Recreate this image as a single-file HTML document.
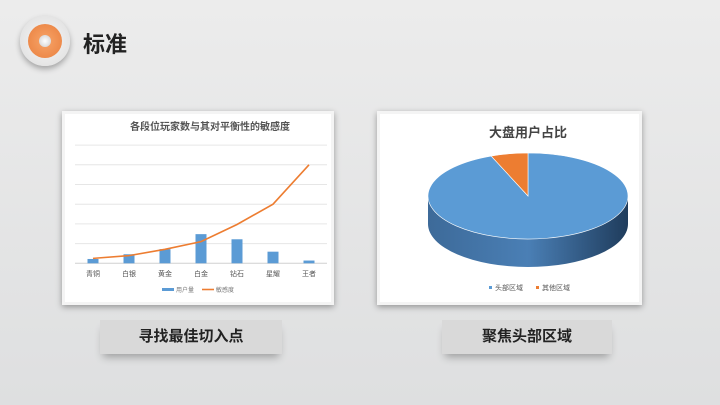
<!DOCTYPE html>
<html><head><meta charset="utf-8"><style>
body{margin:0;width:720px;height:405px;overflow:hidden;background:linear-gradient(#ececec,#dedfe0);font-family:"Liberation Sans","Noto Sans CJK SC",sans-serif;position:relative}
.abs{position:absolute}
.card{background:#fff;box-shadow:0 2px 6px rgba(0,0,0,.35);border:3px solid #f4f4f4;box-sizing:border-box}
.lbl{background:#d9d9d9;box-shadow:0 6px 8px -3px rgba(0,0,0,.3);font-weight:bold;font-size:15px;color:#222;line-height:34px}
</style></head><body>
<div class="abs" style="left:20px;top:16px;width:50px;height:50px;border-radius:50%;background:radial-gradient(#f8f8f8,#dcdcdc);box-shadow:0 3px 6px rgba(0,0,0,.3)">
 <div class="abs" style="left:8px;top:8px;width:34px;height:34px;border-radius:50%;background:radial-gradient(#f7a468,#e97f3e)"></div>
 <div class="abs" style="left:19px;top:19px;width:12px;height:12px;border-radius:50%;background:radial-gradient(#fff,#ccc)"></div>
</div>
<div class="abs" style="left:83px;top:27px;font-size:22px;font-weight:bold;color:#222">标准</div>

<div class="abs card" style="left:62px;top:111px;width:272px;height:194px"></div>
<svg class="abs" style="left:0;top:0" width="720" height="405" id="c1">
<text x="210" y="130" text-anchor="middle" font-size="10" font-weight="bold" fill="#555">各段位玩家数与其对平衡性的敏感度</text>
</svg>

<div class="abs card" style="left:377px;top:111px;width:265px;height:194px"></div>
<svg class="abs" style="left:0;top:0" width="720" height="405" id="c2">
<defs><linearGradient id="side" x1="0" x2="1"><stop offset="0" stop-color="#3d6a99"/><stop offset=".5" stop-color="#4a7fb5"/><stop offset="1" stop-color="#1f3c5c"/></linearGradient></defs>
<text x="528" y="137" text-anchor="middle" font-size="13" font-weight="bold" fill="#444">大盘用户占比</text>
</svg>

<div class="abs lbl" style="left:100px;top:320px;width:182px;text-align:center">寻找最佳切入点</div>
<div class="abs lbl" style="left:442px;top:320px;width:170px;text-align:center">聚焦头部区域</div>

<script>
const categories=['青铜','白银','黄金','白金','钻石','星耀','王者'];
const userCounts=[0.22,0.46,0.72,1.48,1.22,0.59,0.14];
const sensitivity=[0.25,0.39,0.71,1.1,1.97,3.0,5.0];
const gridTicks=[0,1,2,3,4,5,6];
const pieLabels=['头部区域','其他区域'];
const pieValues=[94,6];
const NS='http://www.w3.org/2000/svg';
function mk(p,t,a){const e=document.createElementNS(NS,t);for(const k in a)e.setAttribute(k,a[k]);p.appendChild(e);return e;}
const s1=document.getElementById('c1');
const x0=75,x1=327,yb=263.3,step=19.7;
const bw=(x1-x0)/categories.length;
const X=i=>x0+bw*(i+0.5), Y=v=>yb-v*step;
gridTicks.forEach(t=>{const g=mk(s1,'line',{x1:x0,x2:x1,y1:Y(t),y2:Y(t),stroke:t?'#e6e6e6':'#d0d0d0','stroke-width':1});

});
categories.forEach((c,i)=>{
 const r=mk(s1,'rect',{x:X(i)-5.5,y:Y(userCounts[i]),width:11,height:yb-Y(userCounts[i]),fill:'#5b9bd5'});
 
 
 const t=mk(s1,'text',{x:X(i),y:276,'text-anchor':'middle','font-size':7,fill:'#555'});t.textContent=c;
 
 
});
const ln=mk(s1,'polyline',{points:sensitivity.map((v,i)=>X(i)+','+Y(v)).join(' '),fill:'none',stroke:'#ed7d31','stroke-width':1.6});


mk(s1,'rect',{x:162,y:288,width:12,height:3,fill:'#5b9bd5'});
let t=mk(s1,'text',{x:176,y:292,'font-size':6,fill:'#777'});t.textContent='用户量';


mk(s1,'line',{x1:202,x2:214,y1:289.5,y2:289.5,stroke:'#ed7d31','stroke-width':1.6});
t=mk(s1,'text',{x:216,y:292,'font-size':6,fill:'#777'});t.textContent='敏感度';



const s2=document.getElementById('c2');
const cx=528,cy=196,rx=100,ry=43,d=28;
const side=mk(s2,'path',{d:`M${cx-rx},${cy} A${rx},${ry} 0 0 0 ${cx+rx},${cy} L${cx+rx},${cy+d} A${rx},${ry} 0 0 1 ${cx-rx},${cy+d} Z`,fill:'url(#side)'});


const tot=pieValues.reduce((a,b)=>a+b,0);
let a0=-Math.PI/2;const cols=['#5b9bd5','#ed7d31'];
pieValues.forEach((v,i)=>{
 const a1=a0+v/tot*2*Math.PI;
 const p=(a)=>[cx+rx*Math.cos(a),cy+ry*Math.sin(a)];
 const [sx,sy]=p(a0),[ex,ey]=p(a1);
 const sl=mk(s2,'path',{d:`M${cx},${cy} L${sx},${sy} A${rx},${ry} 0 ${a1-a0>Math.PI?1:0} 1 ${ex},${ey} Z`,fill:cols[i],stroke:'#fff','stroke-width':0.6});
 
 
 a0=a1;
});
pieLabels.forEach((l,i)=>{
 mk(s2,'rect',{x:489+i*47,y:286,width:3,height:3,fill:cols[i]});
 const tt=mk(s2,'text',{x:495+i*47,y:290,'font-size':7,fill:'#555'});tt.textContent=l;
 
 
});
</script>
</body></html>
